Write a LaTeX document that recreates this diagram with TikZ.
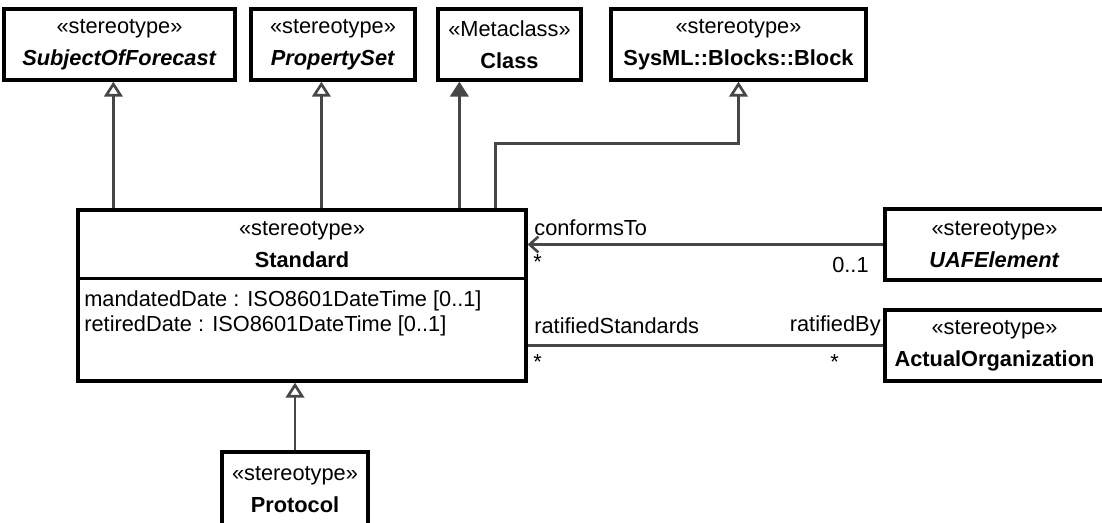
\documentclass[tikz,border=0pt]{standalone}
\usepackage{fontspec}
\setmainfont{Liberation Sans}
\usetikzlibrary{arrows.meta,calc}

\tikzset{
  classe/.style={draw=black, line width=1.9pt, fill=white, inner sep=0pt,
    align=center, font=\fontsize{12.4}{18.2}\selectfont},
  testo/.style={inner sep=0pt, font=\fontsize{12.4}{14.7}\selectfont},
  gen/.style={draw=black!72, line width=1.5pt,
    -{Triangle[open,length=8.5pt,width=10.5pt]}},
  assoc/.style={draw=black!72, line width=1.5pt}
}

\begin{document}
\begin{tikzpicture}[x=0.02cm,y=-0.02cm]
\useasboundingbox (0,0) rectangle (1102,523);

% --- Classi in alto ---
\node[classe, minimum width=4.62cm, minimum height=1.42cm] (sof) at (119.5,44.5)
  {«stereotype»\\\textbf{\textit{SubjectOfForecast}}};
\node[classe, minimum width=3.28cm, minimum height=1.42cm] (pset) at (333,44.5)
  {«stereotype»\\\textbf{\textit{PropertySet}}};
\node[classe, minimum width=2.86cm, minimum height=1.42cm] (cls) at (509.5,44.5)
  {«Metaclass»\\\textbf{Class}};
\node[classe, minimum width=5.10cm, minimum height=1.42cm] (blk) at (738.5,44.5)
  {«stereotype»\\\textbf{SysML::Blocks::Block}};

% --- Standard ---
\node[classe, minimum width=8.96cm, minimum height=3.42cm] (std) at (302,295.5) {};
\draw[line width=1.9pt] ($(std.north west)+(0,70)$) -- ($(std.north east)+(0,70)$);
\node[classe, draw=none, fill=none] (stdhead) at (302,245)
  {«stereotype»\\\textbf{Standard}};
\node[testo, anchor=north west, align=left] (stdattr) at (84,290)
  {mandatedDate : ISO8601DateTime [0..1]\\retiredDate : ISO8601DateTime [0..1]};

% --- Classi a destra e in basso ---
\node[classe, minimum width=4.38cm, minimum height=1.42cm] (uaf) at (994.5,244.5)
  {«stereotype»\\\textbf{\textit{UAFElement}}};
\node[classe, minimum width=4.38cm, minimum height=1.42cm] (org) at (994.5,345.5)
  {«stereotype»\\\textbf{ActualOrganization}};
\node[classe, minimum width=2.92cm, minimum height=1.50cm] (prot) at (295,489.5)
  {«stereotype»\\\textbf{Protocol}};

% --- Generalizzazioni ---
\coordinate (g1) at ($(std.north west)+(37,0)$);
\coordinate (g2) at ($(std.north west)+(245,0)$);
\coordinate (g3) at ($(std.north west)+(383,0)$);
\coordinate (g4) at ($(std.north west)+(419,0)$);
\draw[gen] (g1) -- (g1 |- sof.south);
\draw[gen] (g2) -- (g2 |- pset.south);
\draw[draw=black!72, line width=1.5pt, -{Triangle[length=8.5pt,width=10.5pt]}]
  (g3) -- (g3 |- cls.south);
\draw[gen] (g4) -- ($(g4)+(0,-65)$) -| (blk.south);
\draw[gen] (prot.north) -- (prot.north |- std.south);

% --- Associazioni ---
\draw[assoc, -{Straight Barb[length=5pt,width=9pt]}] (uaf.west) -- (uaf.west -| std.east);
\draw[assoc] (org.west) -- (org.west -| std.east);

% --- Etichette ---
\node[testo, anchor=west] (lct) at (534,228) {conformsTo};
\node[testo, anchor=west] (mct1) at (533,262) {*};
\node[testo, anchor=east] (mct2) at (869,265) {0..1};
\node[testo, anchor=west] (lrs) at (534,326) {ratifiedStandards};
\node[testo, anchor=east] (lrb) at (881,326) {ratifiedBy};
\node[testo, anchor=west] (mrs1) at (533,362) {*};
\node[testo, anchor=west] (mrs2) at (830,362) {*};

\end{tikzpicture}
\end{document}
